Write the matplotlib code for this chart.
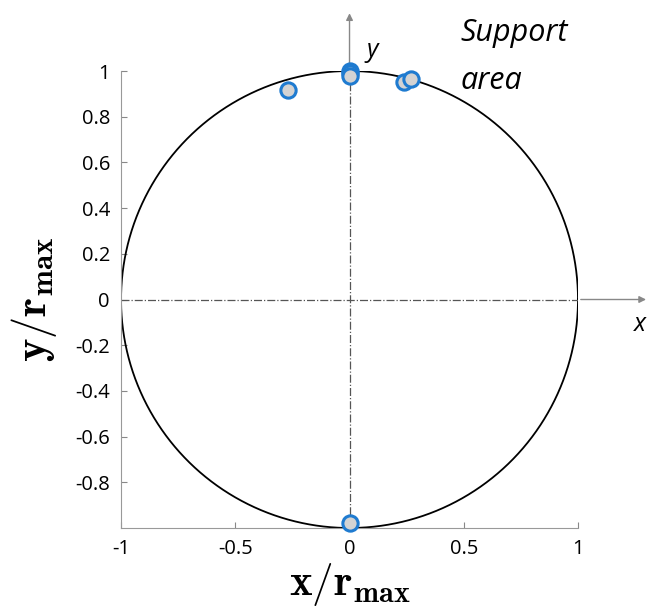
import numpy as np
import matplotlib.pyplot as plt

plt.rcParams['mathtext.fontset'] = 'cm'
plt.rcParams['font.family'] = ['Open Sans', 'DejaVu Sans']

# support points (normalized)
px = [-0.27, 0.0, 0.0, 0.0, 0.24, 0.27, 0.0]
py = [0.915, 1.0, 0.99, 0.98, 0.95, 0.965, -0.98]

xticks = [-1, -0.5, 0, 0.5, 1]
xticklabels = ['-1', '-0.5', '0', '0.5', '1']
yticks = [-0.8, -0.6, -0.4, -0.2, 0, 0.2, 0.4, 0.6, 0.8, 1]
yticklabels = ['-0.8', '-0.6', '-0.4', '-0.2', '0', '0.2', '0.4', '0.6', '0.8', '1']

fig = plt.figure(figsize=(6.56, 6.08), dpi=100)
ax = fig.add_axes([0.1845, 0.1316, 0.6966, 0.7516])

t = np.linspace(0, 2 * np.pi, 400)
ax.plot(np.cos(t), np.sin(t), color='black', lw=1.3)

ax.plot([-1, 1], [0, 0], color='#555555', lw=0.9, ls='-.')
ax.plot([0, 0], [-1, 1], color='#555555', lw=0.9, ls='-.')

# arrows outside axes
ax.annotate('', xy=(1.31, 0), xytext=(1.0, 0), xycoords='data',
            arrowprops=dict(arrowstyle='-|>', color='#888888', lw=1, mutation_scale=10),
            annotation_clip=False)
ax.annotate('', xy=(0, 1.265), xytext=(0, 1.0), xycoords='data',
            arrowprops=dict(arrowstyle='-|>', color='#888888', lw=1, mutation_scale=10),
            annotation_clip=False)

ax.plot(px, py, 'o', ms=11, mfc='#d3d3d3', mec='#1f7bd0', mew=2.2, clip_on=False, zorder=5)

ax.text(1.27, -0.11, 'x', fontsize=18, style='italic', ha='center', va='center')
ax.text(0.1, 1.09, 'y', fontsize=18, style='italic', ha='center', va='center')
ax.text(0.484, 1.13, 'Support', fontsize=22, style='italic', ha='left', va='baseline')
ax.text(0.484, 0.92, 'area', fontsize=22, style='italic', ha='left', va='baseline')

ax.set_xlim(-1, 1)
ax.set_ylim(-1, 1)
ax.set_xticks(xticks)
ax.set_xticklabels(xticklabels)
ax.set_yticks(yticks)
ax.set_yticklabels(yticklabels)
ax.tick_params(direction='in', length=4, labelsize=14.5, color='#888888', pad=8)
for s in ['top', 'right']:
    ax.spines[s].set_visible(False)
for s in ['left', 'bottom']:
    ax.spines[s].set_color('#999999')

ax.set_xlabel(r'$\mathbf{x/r_{max}}$', fontsize=31)
ax.set_ylabel(r'$\mathbf{y/r_{max}}$', fontsize=32)
ax.xaxis.set_label_coords(0.5, -0.072)
ax.yaxis.set_label_coords(-0.135, 0.5)

fig.savefig('out.png', dpi=100)
